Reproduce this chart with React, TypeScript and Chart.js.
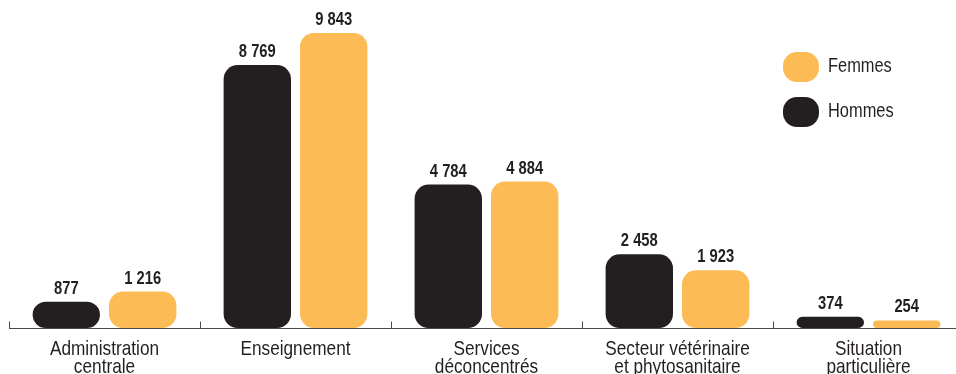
import React, { useEffect, useRef } from "react";
import { Chart, registerables } from "chart.js";

Chart.register(...registerables);

const categories: string[][] = [
  ["Administration", "centrale"],
  ["Enseignement"],
  ["Services", "déconcentrés"],
  ["Secteur vétérinaire", "et phytosanitaire"],
  ["Situation", "particulière"],
];
const hommes = [877, 8769, 4784, 2458, 374];
const femmes = [1216, 9843, 4884, 1923, 254];
const seriesLabels = ["Hommes", "Femmes"];

const DARK = "#231f20";
const ORANGE = "#fdbb55";
const FAMILY = "'Liberation Sans', Arial, sans-serif";
const NARROW = 0.82;

const fmt = (v: number) => String(v).replace(/\B(?=(\d{3})+(?!\d))/g, " ");

function narrowText(ctx: CanvasRenderingContext2D, text: string, x: number, y: number, align: "left" | "center") {
  ctx.save();
  ctx.translate(x, y);
  ctx.scale(NARROW, 1);
  ctx.textAlign = align;
  ctx.fillText(text, 0, 0);
  ctx.restore();
}

const axisPlugin = {
  id: "axisLine",
  beforeDatasetsDraw(chart: any) {
    const { ctx, chartArea } = chart;
    const x = chart.scales.x;
    const n = categories.length;
    const w = (x.right - x.left) / n;
    ctx.save();
    ctx.strokeStyle = "#4a4a4a";
    ctx.lineWidth = 1;
    const y = Math.round(chartArea.bottom) + 0.5;
    ctx.beginPath();
    ctx.moveTo(x.left, y);
    ctx.lineTo(chart.width, y);
    for (let i = 0; i <= n; i++) {
      const px = Math.round(x.left + i * w) + 0.5;
      ctx.moveTo(px, y);
      ctx.lineTo(px, y - 7);
    }
    ctx.stroke();
    // category labels
    ctx.fillStyle = DARK;
    ctx.font = `21px ${FAMILY}`;
    ctx.textBaseline = "alphabetic";
    chart.data.labels.forEach((lab: string[], i: number) => {
      const px = x.getPixelForValue(i);
      lab.forEach((line: string, li: number) => {
        narrowText(ctx, line, px, chartArea.bottom + 27 + li * 18, "center");
      });
    });
    ctx.restore();
  },
};

const labelPlugin = {
  id: "valueLabels",
  afterDatasetsDraw(chart: any) {
    const { ctx } = chart;
    ctx.save();
    ctx.fillStyle = DARK;
    ctx.font = `bold 18px ${FAMILY}`;
    ctx.textBaseline = "alphabetic";
    chart.data.datasets.forEach((ds: any, di: number) => {
      const meta = chart.getDatasetMeta(di);
      meta.data.forEach((bar: any, i: number) => {
        narrowText(ctx, fmt(ds.data[i]), bar.x, bar.y - 8, "center");
      });
    });
    ctx.restore();
  },
};

const legendPlugin = {
  id: "customLegend",
  afterDraw(chart: any) {
    const { ctx } = chart;
    const items = [...chart.data.datasets].reverse();
    ctx.save();
    items.forEach((ds: any, i: number) => {
      const top = 52 + i * 45;
      ctx.fillStyle = ds.backgroundColor;
      ctx.beginPath();
      (ctx as any).roundRect(783, top, 36, 30, 14);
      ctx.fill();
      ctx.fillStyle = DARK;
      ctx.font = `20px ${FAMILY}`;
      ctx.textBaseline = "alphabetic";
      narrowText(ctx, ds.label, 828, top + 20, "left");
    });
    ctx.restore();
  },
};

export default function App() {
  const ref = useRef<HTMLCanvasElement | null>(null);
  useEffect(() => {
    if (!ref.current) return;
    const chart = new Chart(ref.current, {
      type: "bar",
      data: {
        labels: categories,
        datasets: [
          { label: seriesLabels[0], data: hommes, backgroundColor: DARK },
          { label: seriesLabels[1], data: femmes, backgroundColor: ORANGE },
        ],
      },
      options: {
        animation: false,
        responsive: false,
        maintainAspectRatio: false,
        devicePixelRatio: 1,
        layout: { padding: { left: 9, right: 11, top: 0, bottom: 46 } },
        datasets: {
          bar: {
            categoryPercentage: 0.8,
            barPercentage: 0.882,
            borderRadius: 14,
            borderSkipped: false,
          },
        },
        plugins: {
          legend: { display: false },
          tooltip: { enabled: false },
        },
        scales: {
          x: {
            display: false,
            offset: true,
          },
          y: {
            display: false,
            min: 0,
            max: 10940,
          },
        },
      },
      plugins: [axisPlugin, labelPlugin, legendPlugin],
    });
    return () => chart.destroy();
  }, []);
  return (
    <div
      style={{
        position: "fixed",
        left: 0,
        top: 0,
        width: 956,
        height: 374,
        overflow: "hidden",
        background: "#fff",
      }}
    >
      <canvas ref={ref} width={975} height={374} style={{ display: "block" }} />
    </div>
  );
}
